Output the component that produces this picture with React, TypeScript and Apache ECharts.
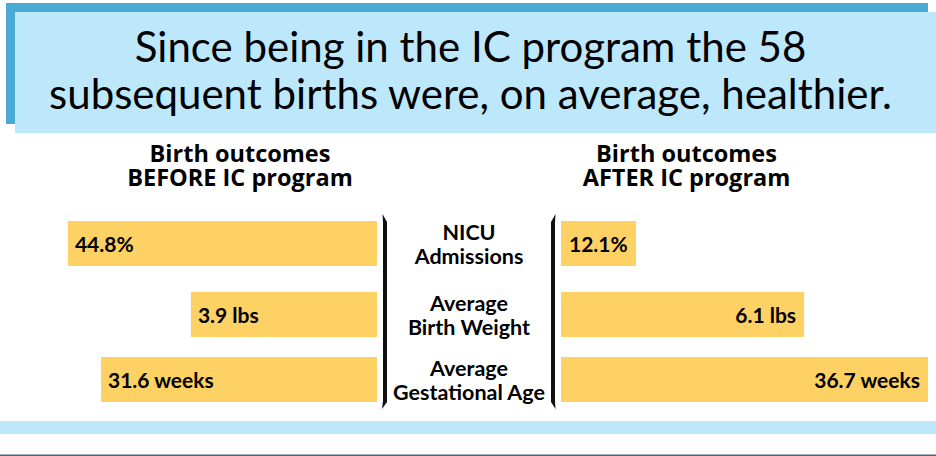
import React, { useEffect, useRef } from "react";
import * as echarts from "echarts";

const CATEGORIES = ["NICU\nAdmissions", "Average\nBirth Weight", "Average\nGestational Age"];
const BEFORE = [44.8, 3.9, 31.6];
const AFTER = [12.1, 6.1, 36.7];
const UNITS = ["%", " lbs", " weeks"];
const TITLE_LINES = ["Since being in the IC program the 58", "subsequent births were, on average, healthier."];
const BEFORE_HEADER = ["Birth outcomes", "BEFORE IC program"];
const AFTER_HEADER = ["Birth outcomes", "AFTER IC program"];

// layout-only constants
const ROW_CENTER = [243.5, 314.5, 379.5];
const LEFT_AXIS_MAX = [50, 7.23, 39.5];
const RIGHT_AXIS_MAX = [60.5, 9.41, 37.5];
const RIGHT_LABEL_POS = ["insideLeft", "insideRight", "insideRight"];
const FONT = "Lato, 'Open Sans', sans-serif";
const HEADER_FONT = "'Open Sans', Lato, sans-serif";
const BAR_COLOR = "#FDD163";

export default function App() {
  const ref = useRef<HTMLDivElement>(null);
  useEffect(() => {
    document.body.style.margin = "0";
    if (!ref.current) return;
    const chart = echarts.init(ref.current, undefined, { renderer: "svg" });
    const grid: any[] = [];
    const xAxis: any[] = [];
    const yAxis: any[] = [];
    const series: any[] = [];
    const labelStyle = { fontFamily: FONT, fontWeight: "bold", fontSize: 21, color: "#000" };
    for (let i = 0; i < 3; i++) {
      const top = ROW_CENTER[i] - 30;
      // left grid
      grid.push({ left: 32, width: 345, top, height: 60 });
      xAxis.push({ type: "value", gridIndex: 2 * i, min: 0, max: LEFT_AXIS_MAX[i], inverse: true, show: false });
      yAxis.push({ type: "category", gridIndex: 2 * i, data: [CATEGORIES[i]], show: false });
      series.push({
        type: "bar",
        xAxisIndex: 2 * i,
        yAxisIndex: 2 * i,
        data: [BEFORE[i]],
        barWidth: 45,
        itemStyle: { color: BAR_COLOR },
        label: { show: true, position: "insideLeft", distance: 7, formatter: () => BEFORE[i] + UNITS[i], ...labelStyle },
      });
      // right grid
      grid.push({ left: 561, width: 375, top, height: 60 });
      xAxis.push({ type: "value", gridIndex: 2 * i + 1, min: 0, max: RIGHT_AXIS_MAX[i], show: false });
      yAxis.push({
        type: "category",
        gridIndex: 2 * i + 1,
        data: [CATEGORIES[i]],
        axisLine: { show: false },
        axisTick: { show: false },
        splitLine: { show: false },
        axisLabel: {
          show: true,
          align: "center",
          margin: 92,
          fontFamily: FONT,
          fontWeight: "bold",
          fontSize: 21.5,
          lineHeight: 24,
          color: "#000",
        },
      });
      series.push({
        type: "bar",
        xAxisIndex: 2 * i + 1,
        yAxisIndex: 2 * i + 1,
        data: [AFTER[i]],
        barWidth: 45,
        itemStyle: { color: BAR_COLOR },
        label: { show: true, position: RIGHT_LABEL_POS[i], distance: 8, formatter: () => AFTER[i] + UNITS[i], ...labelStyle },
      });
    }

    const headerText = (lines: string[], x: number) =>
      lines.map((t, k) => ({
        type: "text",
        x,
        y: k === 0 ? 153 : 177,
        style: {
          text: t,
          fontFamily: HEADER_FONT,
          fontWeight: "bold",
          fontSize: 23.5,
          fill: "#000",
          align: "center",
          verticalAlign: "middle",
        },
      }));

    chart.setOption({
      animation: false,
      backgroundColor: "#fff",
      grid,
      xAxis,
      yAxis,
      series,
      graphic: [
        { type: "rect", shape: { x: 6, y: 3, width: 922, height: 121 }, style: { fill: "#4AAAD5" }, z: 0 },
        { type: "rect", shape: { x: 15, y: 12, width: 921, height: 121 }, style: { fill: "#BDE8FC" }, z: 1 },
        ...TITLE_LINES.map((t, k) => ({
          type: "text",
          x: 470.5,
          y: k === 0 ? 46 : 93,
          z: 2,
          style: { text: t, fontFamily: FONT, fontSize: 42, fill: "#000", align: "center", verticalAlign: "middle" },
        })),
        ...headerText(BEFORE_HEADER, 240),
        ...headerText(AFTER_HEADER, 686.5),
        {
          type: "polygon",
          shape: { points: [[382.5, 214], [387, 222], [387, 402], [382, 409], [383, 401], [383, 223]] },
          style: { fill: "#111" },
        },
        {
          type: "polygon",
          shape: { points: [[555.5, 214], [551, 222], [551, 402], [555.5, 409], [555, 401], [555, 223]] },
          style: { fill: "#111" },
        },
        { type: "rect", shape: { x: 0, y: 421, width: 936, height: 13 }, style: { fill: "#BDE8FC" } },
        { type: "rect", shape: { x: 0, y: 454.5, width: 936, height: 1.5 }, style: { fill: "#50657A" } },
      ],
    });
    return () => chart.dispose();
  }, []);
  return <div ref={ref} style={{ position: "absolute", left: 0, top: 0, width: 936, height: 456 }} />;
}
